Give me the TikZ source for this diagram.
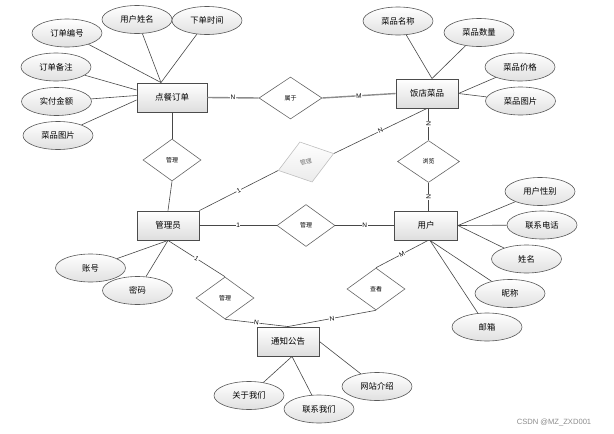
\documentclass[tikz,border=0pt]{standalone}
\usepackage{fontspec}
\setmainfont{Liberation Sans}
\newfontfamily\cjk{Noto Sans CJK SC}
\usetikzlibrary{shapes.geometric}
\begin{document}
\begin{tikzpicture}[x=1pt,y=-1pt,
  ent/.style={rectangle,draw=black!70,line width=0.9pt,top color=white,bottom color=black!13,
    minimum width=62pt,minimum height=29pt,inner sep=0pt,font=\cjk\fontsize{8.5}{9}\selectfont},
  attr/.style={ellipse,draw=black!65,line width=0.6pt,top color=white,bottom color=black!12,
    minimum width=70pt,minimum height=28pt,inner sep=0pt,font=\cjk\fontsize{8.3}{9}\selectfont},
  rel/.style={diamond,draw=black!60,line width=0.6pt,fill=white,
    minimum width=58pt,minimum height=42pt,inner sep=0pt,font=\cjk\fontsize{6}{7}\selectfont},
  relf/.style={rel,draw=black!25,top color=white,bottom color=black!8,text=black!55},
  ln/.style={draw=black!72,line width=0.6pt},
  lnt/.style={draw=black!45,line width=1.4pt},
  lab/.style={font=\fontsize{6.5}{7}\selectfont,fill=white,inner sep=0.6pt,sloped,midway}
]
\useasboundingbox (0,0) rectangle (614,434);

% entities
\node[ent,minimum width=70pt] (dc) at (172,97.5) {点餐订单};
\node[ent] (fd) at (427,93.5) {饭店菜品};
\node[ent] (gly) at (168,225.5) {管理员};
\node[ent,minimum width=63pt] (yh) at (426,225.5) {用户};
\node[ent] (tz) at (288,341.5) {通知公告};

% relationships
\node[rel,minimum width=63pt] (r1) at (290.5,98) {属于};
\node[rel] (r2) at (172,160) {管理};
\node[relf,rotate=17] (r3) at (306,162) {管理};
\node[rel] (r4) at (306,225.5) {管理};
\node[rel,minimum width=62pt] (r5) at (428.5,161.5) {浏览};
\node[rel] (r6) at (225,298) {管理};
\node[rel] (r7) at (376,289) {查看};

% attributes
\node[attr] (a1) at (67,33) {订单编号};
\node[attr] (a2) at (137,19.5) {用户姓名};
\node[attr] (a3) at (207,20.5) {下单时间};
\node[attr] (a4) at (56,67) {订单备注};
\node[attr] (a5) at (56.5,101.5) {实付金额};
\node[attr] (a6) at (58,135.5) {菜品图片};

\node[attr] (b1) at (398,21) {菜品名称};
\node[attr] (b2) at (479,32.5) {菜品数量};
\node[attr] (b3) at (520,67) {菜品价格};
\node[attr] (b4) at (520.5,101) {菜品图片};

\node[attr] (c1) at (540,191.5) {用户性别};
\node[attr] (c2) at (542,225) {联系电话};
\node[attr] (c3) at (526.5,259) {姓名};
\node[attr] (c4) at (510,293.5) {昵称};
\node[attr] (c5) at (487,327) {邮箱};

\node[attr] (d1) at (90.5,268) {账号};
\node[attr] (d2) at (137.5,290.5) {密码};

\node[attr] (e1) at (249,395.5) {关于我们};
\node[attr] (e2) at (319,409) {联系我们};
\node[attr] (e3) at (377,386.5) {网站介绍};

% attribute lines
\draw[ln] (a1) -- ([xshift=-11pt]dc.north);
\draw[ln] (a2) -- ([xshift=-11pt]dc.north);
\draw[ln] (a3) -- ([xshift=-11pt]dc.north);
\draw[ln] (a4) -- ([yshift=7.5pt]dc.west);
\draw[ln] (a5) -- ([yshift=2pt]dc.west);
\draw[ln] (a6) -- ([yshift=-2.5pt]dc.west);

\draw[ln] (b1) -- ([xshift=5pt]fd.north);
\draw[ln] (b2) -- ([xshift=5pt]fd.north);
\draw[ln] (b3) -- (fd.east);
\draw[ln] (b4) -- (fd.east);

\draw[ln] (c1) -- (yh.east);
\draw[ln] (c2) -- (yh.east);
\draw[ln] (c3) -- (yh.east);
\draw[ln] (c4) -- ([xshift=4pt]yh.south);
\draw[ln] (c5) -- ([xshift=4pt]yh.south);

\draw[ln] (d1) -- (gly.south);
\draw[ln] (d2) -- (gly.south);

\draw[ln] (e1) -- ([xshift=4pt]tz.south);
\draw[ln] (e2) -- ([xshift=4pt]tz.south);
\draw[ln] (e3) -- (tz.east);

% relationship lines
\draw[lnt] (dc.east) -- node[lab,text=black] {N} (r1.west);
\draw[lnt] (r1.east) -- node[lab,text=black] {M} (fd.west);

\draw[ln] (dc.south) -- (r2.north);
\draw[ln] (r2.south) -- (gly.north);

\draw[ln] (gly.north east) -- node[lab] {1} (r3.west);
\draw[ln] (r3.east) -- node[lab] {N} (fd.south);

\draw[ln] (r5.north |- fd.south) -- node[lab] {N} (r5.north);
\draw[ln] (r5.south) -- node[lab] {N} (r5.south |- yh.north);

\draw[ln] (gly.east) -- node[lab] {1} (r4.west);
\draw[ln] (r4.east) -- node[lab] {N} (yh.west);

\draw[ln] (gly.south) -- node[lab] {1} (r6.north);
\draw[ln] (r6.south) -- node[lab] {N} (tz.north);

\draw[ln] ([xshift=2pt]yh.south) -- node[lab] {M} (r7.north);
\draw[ln] (r7.south) -- node[lab] {N} (tz.north);

\node[font=\fontsize{7.6}{8}\selectfont,text=black!45] (wm) at (554,422) {CSDN @MZ\_ZXD001};
\end{tikzpicture}
\end{document}
